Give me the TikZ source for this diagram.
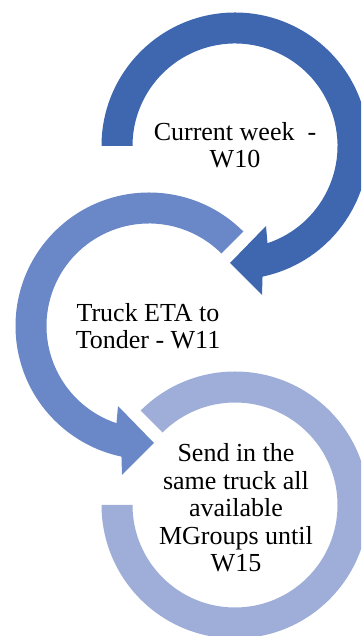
\documentclass[tikz,border=0pt]{standalone}
\usepackage{fontspec}
\setmainfont{Liberation Serif}
\definecolor{ringdark}{RGB}{63,103,176}
\definecolor{ringmid}{RGB}{106,136,199}
\definecolor{ringlight}{RGB}{159,174,216}
\tikzset{
  steptext/.style={align=center, inner sep=0pt, text=black,
    font=\fontsize{26}{27.5}\selectfont}
}
\begin{document}
\begin{tikzpicture}[x=1pt,y=1pt]
\useasboundingbox (0,0) rectangle (361,636);
\clip (0,0) rectangle (361,636);
% outer radius 133.5, inner radius 102.5
% first step: clockwise arc ending in an arrowhead
\begin{scope}[shift={(235,490)}]
  \fill[ringdark] (180:133.5) arc[start angle=180, end angle=-78.1, radius=133.5]
    -- (27,-149) -- (-5,-117) -- (31,-80) -- (-71.5:102.5)
    arc[start angle=-71.5, end angle=180, radius=102.5] -- cycle;
\end{scope}
% second step: counter-clockwise arc ending in an arrowhead
\begin{scope}[shift={(149,310)}]
  \fill[ringmid] (45:133.5) arc[start angle=45, end angle=258.1, radius=133.5]
    -- (-27,-149) -- (5,-117) -- (-31,-80) -- (251.5:102.5)
    arc[start angle=251.5, end angle=45, radius=102.5] -- cycle;
\end{scope}
% last step: clockwise arc without arrowhead
\begin{scope}[shift={(235,131)}]
  \fill[ringlight] (135:133.5) arc[start angle=135, end angle=-180, radius=133.5]
    -- (-180:102.5) arc[start angle=-180, end angle=135, radius=102.5] -- cycle;
\end{scope}
\node[steptext] (week) at (235,491) {Current week\ \ -\\W10};
\node[steptext] (eta) at (148,310) {Truck ETA to\\Tonder - W11};
\node[steptext] (send) at (236,128) {Send in the\\same truck all\\available\\MGroups until\\W15};
\end{tikzpicture}
\end{document}
